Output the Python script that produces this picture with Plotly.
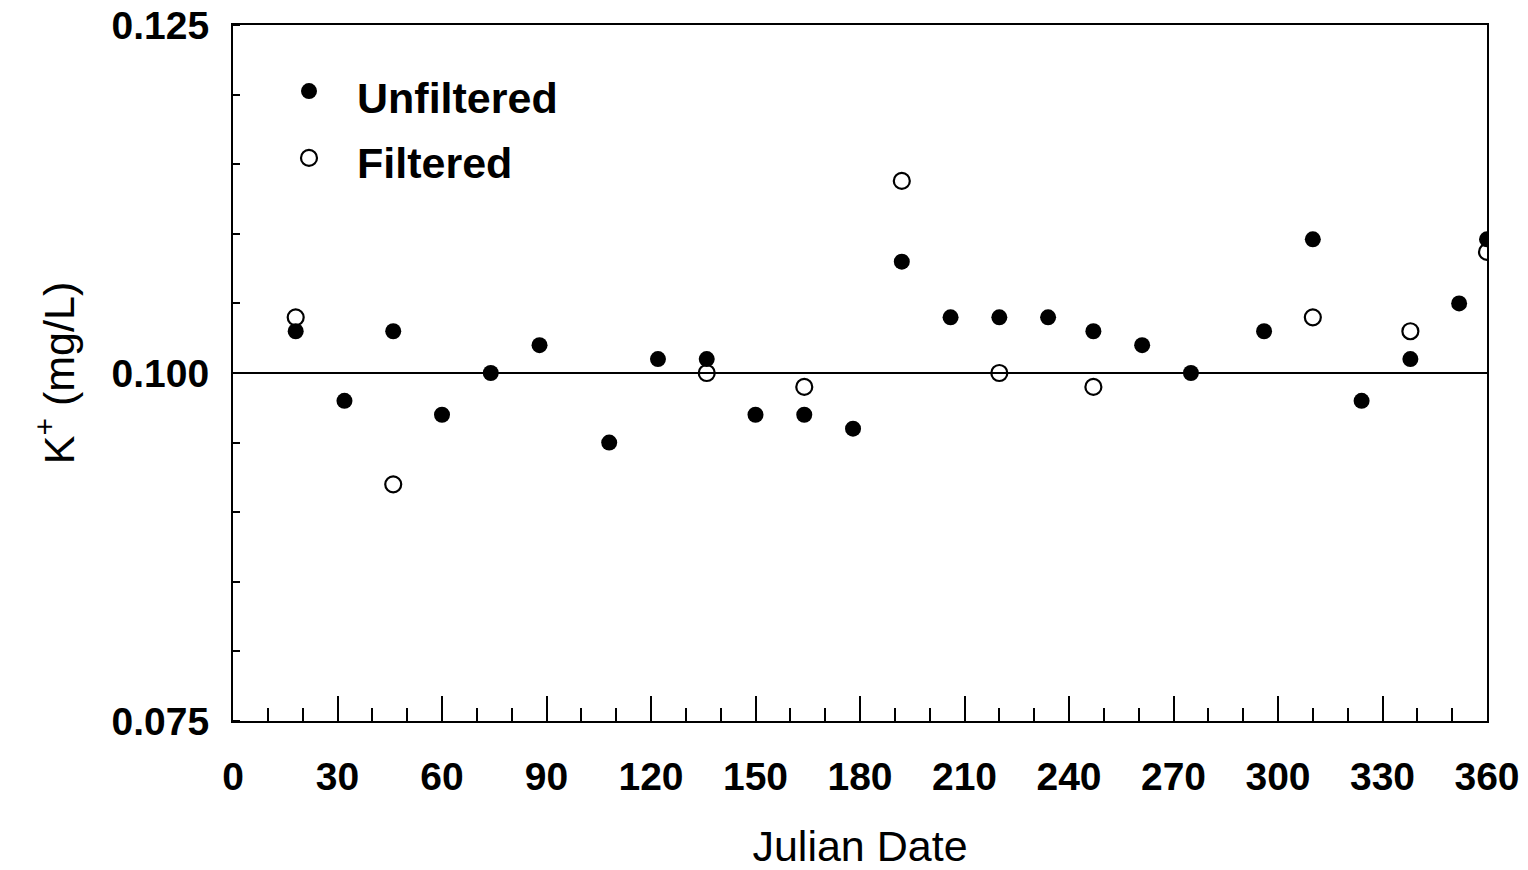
import plotly.graph_objects as go

# Unfiltered (filled) samples
unf_day = [18, 32, 46, 60, 74, 88, 108, 122, 136, 150, 164, 178, 192, 206, 220,
           234, 247, 261, 275, 296, 310, 324, 338, 352, 360]
unf_k = [0.103, 0.098, 0.103, 0.097, 0.100, 0.102, 0.095, 0.101, 0.101, 0.097,
         0.097, 0.096, 0.108, 0.104, 0.104, 0.104, 0.103, 0.102, 0.100, 0.103,
         0.1096, 0.098, 0.101, 0.105, 0.1096]

# Filtered (open) samples
fil_day = [18, 46, 136, 164, 192, 220, 247, 310, 338, 360]
fil_k = [0.104, 0.092, 0.100, 0.099, 0.1138, 0.100, 0.099, 0.104, 0.103, 0.1087]

series_names = ["Unfiltered", "Filtered"]

y_ticks = [0.075, 0.100, 0.125]
y_ticktext = ["0.075", "0.100", "0.125"]
x_ticks = list(range(0, 361, 30))

FONT = "Liberation Sans, Arial, sans-serif"

fig = go.Figure()
fig.add_trace(go.Scatter(
    x=unf_day, y=unf_k, mode="markers", name=series_names[0],
    marker=dict(symbol="circle", size=16, color="black", line=dict(width=0)),
))
fig.add_trace(go.Scatter(
    x=fil_day, y=fil_k, mode="markers", name=series_names[1],
    marker=dict(symbol="circle-open", size=16, color="black", line=dict(width=2.2)),
))

fig.add_shape(type="line", xref="paper", yref="y", x0=0, x1=1, y0=0.100, y1=0.100,
              line=dict(color="black", width=2), layer="below")

# Manual legend (symbols + labels)
leg_x_sym = 0.0606
leg_x_txt = 0.0973
leg_y_sym = [0.905, 0.809]
leg_y_txt = [0.895, 0.802]
fig.add_shape(type="circle", xref="paper", yref="paper",
              xsizemode="pixel", ysizemode="pixel",
              xanchor=leg_x_sym, yanchor=leg_y_sym[0], x0=-8, x1=8, y0=-8, y1=8,
              fillcolor="black", line=dict(color="black", width=0))
fig.add_shape(type="circle", xref="paper", yref="paper",
              xsizemode="pixel", ysizemode="pixel",
              xanchor=leg_x_sym, yanchor=leg_y_sym[1], x0=-8, x1=8, y0=-8, y1=8,
              fillcolor="white", line=dict(color="black", width=2.2))
for name, yy in zip(series_names, leg_y_txt):
    fig.add_annotation(xref="paper", yref="paper", x=leg_x_txt, y=yy,
                       xanchor="left", yanchor="middle", showarrow=False, text=name,
                       font=dict(size=43, weight="bold", family=FONT, color="black"))

fig.update_layout(
    width=1528, height=870,
    margin=dict(l=233, r=41, t=25, b=149, autoexpand=False),
    paper_bgcolor="white", plot_bgcolor="white",
    font=dict(family=FONT, color="black"),
    showlegend=False,
    xaxis=dict(
        range=[0, 360], tickvals=x_ticks, ticks="inside", ticklen=25, tickwidth=2,
        tickcolor="black", showline=True, linecolor="black", linewidth=2, mirror=True,
        showgrid=False, zeroline=False, automargin=False,
        tickfont=dict(size=39, weight="bold", family=FONT),
        ticklabelstandoff=20,
        minor=dict(dtick=10, ticks="inside", ticklen=13, tickwidth=2, tickcolor="black",
                   showgrid=False),
        title=dict(text="Julian Date", font=dict(size=43, family=FONT), standoff=34),
    ),
    yaxis=dict(
        range=[0.075, 0.125], tickvals=y_ticks, ticktext=y_ticktext, ticks="",
        showline=True, linecolor="black", linewidth=2, mirror=True,
        showgrid=False, zeroline=False, automargin=False,
        tickfont=dict(size=39, weight="bold", family=FONT),
        ticklabelstandoff=14,
        minor=dict(dtick=0.005, ticks="inside", ticklen=7, tickwidth=2, tickcolor="black",
                   showgrid=False),
        title=dict(text="K<sup>+</sup> (mg/L)", font=dict(size=43, family=FONT), standoff=24),
    ),
)

fig.write_html("out.html")
